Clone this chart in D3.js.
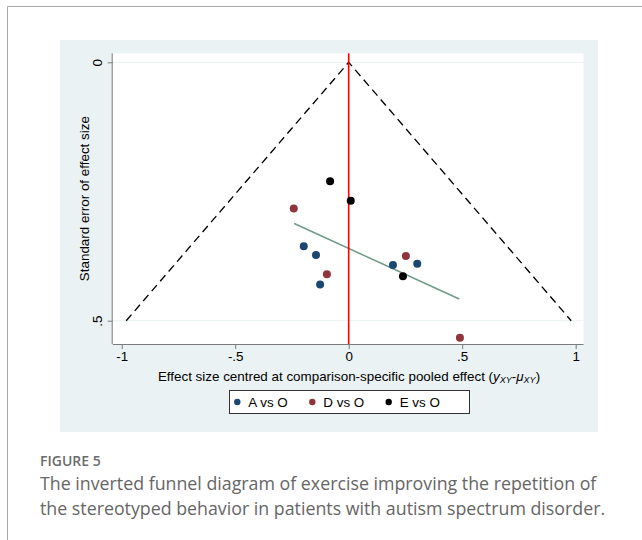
<!DOCTYPE html>
<html>
<head>
<meta charset="utf-8">
<script src="https://cdn.jsdelivr.net/npm/d3@7/dist/d3.min.js"></script>
<style>
  html, body { margin: 0; padding: 0; background: #fff; }
  svg { display: block; }
</style>
</head>
<body>
<svg id="chart" width="642" height="540"></svg>
<script>
// ---- data ----
const seriesNames = ["A vs O", "D vs O", "E vs O"];
const seriesColors = ["#1a476f", "#90353b", "#000000"];
const aVsO = [
  { x: -0.198, se: 0.356 },
  { x: -0.144, se: 0.373 },
  { x: -0.126, se: 0.430 },
  { x: 0.195, se: 0.392 },
  { x: 0.302, se: 0.390 }
];
const dVsO = [
  { x: -0.242, se: 0.283 },
  { x: -0.096, se: 0.410 },
  { x: 0.252, se: 0.375 },
  { x: 0.490, se: 0.533 }
];
const eVsO = [
  { x: -0.082, se: 0.230 },
  { x: 0.009, se: 0.268 },
  { x: 0.239, se: 0.414 }
];
const fitLine = [
  { x: -0.240, se: 0.312 },
  { x: 0.487, se: 0.458 }
];
const funnelSeMax = 0.5;
const funnelZ = 1.96;
const xTicks = [-1, -0.5, 0, 0.5, 1];
const xTickLabels = ["-1", "-.5", "0", ".5", "1"];
const yTicks = [0, 0.5];
const yTickLabels = ["0", ".5"];
const xTitle = "Effect size centred at comparison-specific pooled effect (";
const yTitle = "Standard error of effect size";
const captionLabel = "FIGURE 5";
const captionLines = [
  "The inverted funnel diagram of exercise improving the repetition of",
  "the stereotyped behavior in patients with autism spectrum disorder."
];

// ---- layout ----
const svg = d3.select("#chart");
const panel = { x: 60, y: 40, w: 538, h: 392 };
const plot = { left: 112.7, right: 583.5, top: 53.3, bottom: 344 };
const font = "'Liberation Sans', Arial, sans-serif";
const fs = 13.4;

// frame lines of the page
svg.append("line").attr("x1", 7.5).attr("x2", 642).attr("y1", 6.5).attr("y2", 6.5)
  .attr("stroke", "#a8a8a8").attr("stroke-width", 1);
svg.append("line").attr("x1", 7.5).attr("x2", 7.5).attr("y1", 6.5).attr("y2", 540)
  .attr("stroke", "#a8a8a8").attr("stroke-width", 1);

// graph region
svg.append("rect").attr("x", panel.x).attr("y", panel.y).attr("width", panel.w).attr("height", panel.h)
  .attr("fill", "#eaf2f3");
svg.append("rect").attr("x", plot.left).attr("y", plot.top)
  .attr("width", plot.right - plot.left).attr("height", plot.bottom - plot.top)
  .attr("fill", "#ffffff");

const x = d3.scaleLinear().domain([-1, 1]).range([121.7, 575.7]);
const y = d3.scaleLinear().domain([0, 0.5]).range([62.3, 320.7]);

// gridlines
svg.append("g").selectAll("line").data(yTicks).join("line")
  .attr("x1", plot.left).attr("x2", plot.right)
  .attr("y1", d => y(d)).attr("y2", d => y(d))
  .attr("stroke", "#eaf2f3").attr("stroke-width", 1);

// funnel (pseudo 95% limits)
const funnel = [
  { x: -funnelZ * funnelSeMax, se: funnelSeMax },
  { x: 0, se: 0 },
  { x: funnelZ * funnelSeMax, se: funnelSeMax }
];
svg.append("path")
  .attr("d", d3.line().x(d => x(d.x)).y(d => y(d.se))(funnel))
  .attr("fill", "none").attr("stroke", "#000").attr("stroke-width", 1.35)
  .attr("stroke-dasharray", "8,5");

// fitted line
svg.append("path")
  .attr("d", d3.line().x(d => x(d.x)).y(d => y(d.se))(fitLine))
  .attr("fill", "none").attr("stroke", "#6f9a86").attr("stroke-width", 1.5);

// red null line
svg.append("line").attr("x1", x(0)).attr("x2", x(0)).attr("y1", plot.top).attr("y2", plot.bottom)
  .attr("stroke", "#ff0000").attr("stroke-width", 1.6);

// points
const allSeries = [aVsO, dVsO, eVsO];
allSeries.forEach((s, i) => {
  svg.append("g").selectAll("circle").data(s).join("circle")
    .attr("cx", d => x(d.x)).attr("cy", d => y(d.se)).attr("r", 4)
    .attr("fill", seriesColors[i]);
});

// axes
const axisColor = "#7a7a7a";
const xAxis = d3.axisBottom(x).tickValues(xTicks).tickFormat((d, i) => xTickLabels[i]).tickSize(5).tickSizeOuter(0);
const gx = svg.append("g").attr("transform", `translate(0,${plot.bottom})`).call(xAxis);
gx.select(".domain").attr("d", `M${plot.left},0.5H${plot.right}`).attr("stroke", axisColor);
gx.selectAll(".tick line").attr("stroke", axisColor);
gx.selectAll(".tick text").attr("font-family", font).attr("font-size", fs).attr("fill", "#000").attr("dy", "0.78em").attr("y", 7);

const yAxis = d3.axisLeft(y).tickValues(yTicks).tickFormat((d, i) => yTickLabels[i]).tickSize(5).tickSizeOuter(0);
const gy = svg.append("g").attr("transform", `translate(${plot.left},0)`).call(yAxis);
gy.select(".domain").attr("d", `M-0.5,${plot.top}V${plot.bottom}`).attr("stroke", axisColor);
gy.selectAll(".tick line").attr("stroke", axisColor);
gy.selectAll(".tick text")
  .attr("font-family", font).attr("font-size", fs).attr("fill", "#000")
  .attr("x", null).attr("dy", null)
  .attr("text-anchor", "middle")
  .attr("transform", "translate(-11,0) rotate(-90)");

// axis titles
const xt = svg.append("text").attr("x", 349).attr("y", 381).attr("text-anchor", "middle")
  .attr("font-family", font).attr("font-size", fs).attr("fill", "#000");
xt.append("tspan").text(xTitle);
xt.append("tspan").attr("font-style", "italic").text("y");
xt.append("tspan").attr("font-style", "italic").attr("font-size", 9).attr("dy", 2).text("XY");
xt.append("tspan").attr("dy", -2).text("-");
xt.append("tspan").attr("font-style", "italic").text("μ");
xt.append("tspan").attr("font-style", "italic").attr("font-size", 9).attr("dy", 2).text("XY");
xt.append("tspan").attr("dy", -2).text(")");

svg.append("text").attr("transform", `translate(89,${(plot.top + plot.bottom) / 2}) rotate(-90)`)
  .attr("text-anchor", "middle").attr("font-family", font).attr("font-size", fs).attr("fill", "#000")
  .text(yTitle);

// legend
const lg = svg.append("g");
lg.append("rect").attr("x", 229.5).attr("y", 390.5).attr("width", 240).attr("height", 23)
  .attr("fill", "#fff").attr("stroke", "#333").attr("stroke-width", 1);
const legendX = [237.3, 312.3, 388.7];
seriesNames.forEach((n, i) => {
  lg.append("circle").attr("cx", legendX[i]).attr("cy", 402).attr("r", 3.2).attr("fill", seriesColors[i]);
  lg.append("text").attr("x", legendX[i] + 11).attr("y", 406.8)
    .attr("font-family", font).attr("font-size", fs).attr("fill", "#000").text(n);
});

// caption
svg.append("text").attr("x", 40).attr("y", 466).attr("font-family", "'Open Sans', sans-serif")
  .attr("font-size", 14).attr("font-weight", 600).attr("fill", "#6b6b6b").text(captionLabel);
captionLines.forEach((t, i) => {
  svg.append("text").attr("x", 40).attr("y", 490 + i * 25).attr("font-family", "'Open Sans', sans-serif")
    .attr("font-size", 17.8).attr("fill", "#666").text(t);
});
</script>
</body>
</html>
